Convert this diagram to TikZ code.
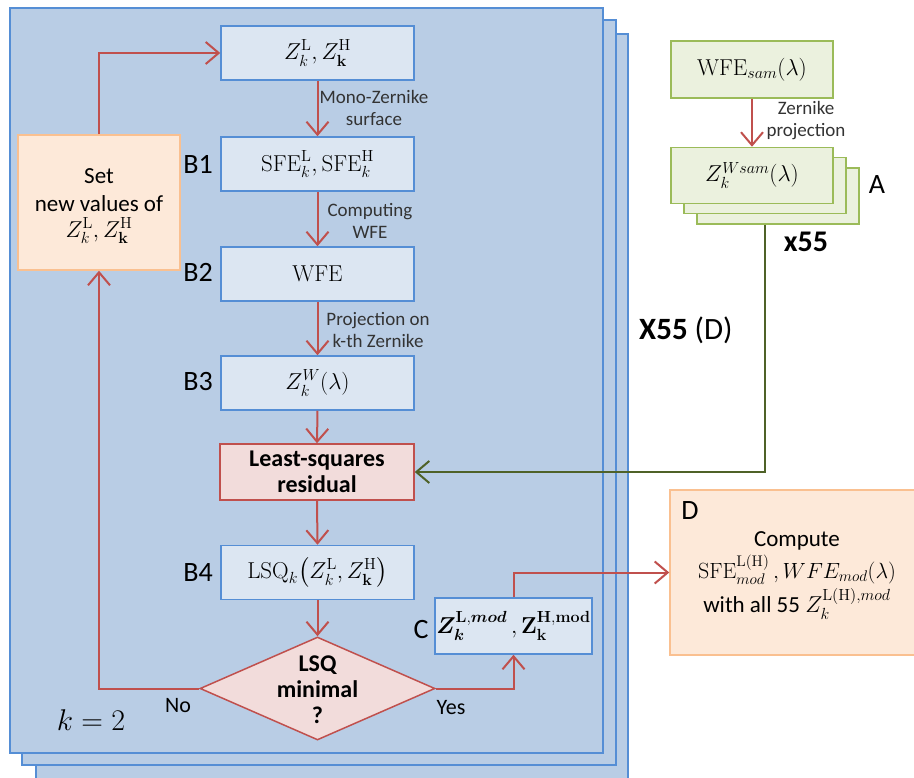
\RequirePackage{fix-cm}
\documentclass[tikz,border=0pt]{standalone}
\usepackage{amsmath}
\usepackage{bm}
\usepackage[no-math]{fontspec}
\setmainfont{Carlito}
\usetikzlibrary{arrows.meta,shapes.geometric}
\definecolor{pfill}{HTML}{B9CDE5}
\definecolor{pblue}{HTML}{558ED5}
\definecolor{bfill}{HTML}{DCE6F2}
\definecolor{ared}{HTML}{C0504D}
\definecolor{rfill}{HTML}{F2DCDB}
\definecolor{ofill}{HTML}{FDE9D9}
\definecolor{oline}{HTML}{FAC090}
\definecolor{gline}{HTML}{9BBB59}
\definecolor{gfill}{HTML}{EBF1DE}
\definecolor{gdark}{HTML}{4F6228}
\definecolor{tgray}{HTML}{333333}
\newcommand{\fbig}{\fontsize{28}{32}\selectfont}
\newcommand{\fmath}{\fontsize{23}{27}\selectfont}
\newcommand{\fdmath}{\fontsize{22}{26}\selectfont}
\newcommand{\fsmall}{\fontsize{19}{22}\selectfont}
\newcommand{\fmid}{\fontsize{23}{28}\selectfont}
\newcommand{\fbold}{\fontsize{24}{26}\selectfont\bfseries}
\tikzset{
  panel/.style={draw=pblue, fill=pfill, line width=1.5pt},
  bbox/.style={draw=pblue, fill=bfill, line width=1.5pt, minimum width=193pt, minimum height=54pt, inner sep=0pt, font=\fmath},
  rbox/.style={draw=ared, fill=rfill, line width=1.5pt, minimum width=194pt, minimum height=56pt, inner sep=0pt, align=center, font=\fbold},
  obox/.style={draw=oline, fill=ofill, line width=1.5pt, inner sep=0pt},
  gbox/.style={draw=gline, fill=gfill, line width=1.5pt, minimum width=162pt, minimum height=56pt, inner sep=0pt, font=\fmath},
  arr/.style={draw=ared, line width=2pt, -{Straight Barb[length=13pt,width=22pt,line width=2pt]}},
  garr/.style={draw=gdark, line width=2pt, -{Straight Barb[length=13pt,width=22pt,line width=2pt]}},
  elab/.style={align=center, font=\fsmall, text=tgray, inner sep=0pt},
  blab/.style={font=\fbig, inner sep=0pt},
}
\begin{document}
\begin{tikzpicture}[x=1pt,y=-1pt]
\useasboundingbox (0,0) rectangle (914,778);
\clip (0,0) rectangle (914,778);
% stacked panels
\draw[panel] (36,34) rectangle (628,795);
\draw[panel] (22,20) rectangle (616,765);
\draw[panel] (10,8) rectangle (603,753);

% main column
\node[bbox] (z) at (317.5,53) {$Z_k^{\mathrm{L}}, Z_{\mathbf{k}}^{\mathrm{H}}$};
\node[bbox] (sfe) at (317.5,164) {$\mathrm{SFE}_k^{\mathrm{L}}, \mathrm{SFE}_k^{\mathrm{H}}$};
\node[bbox] (wfe) at (317.5,274) {$\mathrm{WFE}$};
\node[bbox] (zw) at (317.5,383) {$Z_k^{W}(\lambda)$};
\node[rbox] (ls) at (317,472) {Least-squares\\residual};
\node[bbox] (lsq) at (317.5,572.5) {$\mathrm{LSQ}_k\bigl(Z_k^{\mathrm{L}}, Z_{\mathbf{k}}^{\mathrm{H}}\bigr)$};
\node[diamond, draw=ared, fill=rfill, line width=1.5pt, minimum width=235pt, minimum height=103pt, aspect=2.28, inner sep=0pt] (dia) at (317.5,688.5) {};
\node[align=center, font=\fbold, inner sep=0pt] (diat) at (317.5,690) {LSQ\\minimal\\?};
\node[bbox, minimum width=157pt, minimum height=56pt] (c) at (513.5,626) {$\bm{Z}_{\bm{k}}^{\mathbf{L},\bm{mod}}\,,\mathbf{Z}_{\mathbf{k}}^{\mathbf{H,mod}}$};
\node[obox, minimum width=162pt, minimum height=135pt] (set) at (99,202.5) {};
\node[align=center, font=\fmid, inner sep=0pt] (sett) at (99,206) {Set\\new values of\\[-2pt]$Z_k^{\mathrm{L}}, Z_{\mathbf{k}}^{\mathrm{H}}$};

% side labels
\node[blab] (b1) at (198,164) {B1};
\node[blab] (b2) at (198,272) {B2};
\node[blab] (b3) at (198,382) {B3};
\node[blab] (b4) at (198,573) {B4};
\node[blab] (cl) at (421,630) {C};
\node[font=\fontsize{30}{34}\selectfont, inner sep=0pt] (k2) at (91,720) {$k=2$};
\node[font=\fontsize{22}{26}\selectfont, inner sep=0pt] (no) at (178,706) {No};
\node[font=\fontsize{22}{26}\selectfont, inner sep=0pt] (yes) at (451,708) {Yes};

% edge labels
\node[elab] (l1) at (374,108) {Mono-Zernike\\surface};
\node[elab] (l2) at (370,221) {Computing\\WFE};
\node[elab] (l3) at (378,330) {Projection on\\k-th Zernike};

% connectors main column
\draw[arr] (z.south) -- (sfe.north);
\draw[arr] (sfe.south) -- (wfe.north);
\draw[arr] (wfe.south) -- (zw.north);
\draw[arr] (zw.south) -- (ls.north);
\draw[arr] (ls.south) -- (lsq.north);
\draw[arr] (lsq.south) -- (dia.north);
\draw[arr] (dia.west) -| (set.south);
\draw[arr] (set.north) |- (z.west);
\draw[arr] (dia.east) -| (c.south);

% right side
\node[gbox, minimum height=57pt] (wfes) at (752,69.5) {$\mathrm{WFE}_{sam}(\lambda)$};
\node[gbox] (zs3) at (778,196) {};
\node[gbox] (zs2) at (765,185.5) {};
\node[gbox] (zs1) at (752,175.5) {$Z_k^{Wsam}(\lambda)$};
\node[elab] (l4) at (806,121) {Zernike\\projection};
\draw[arr] (wfes.south) -- (zs1.north);
\node[blab] (al) at (877,185) {A};
\node[font=\fontsize{30}{34}\selectfont\bfseries, inner sep=0pt] (x55) at (806,242) {x55};
\node[font=\fontsize{31}{34}\selectfont, inner sep=0pt, anchor=west] (x55d) at (639,330) {\textbf{X55} (D)};
\coordinate (gstart) at (zs2.south |- zs3.south);
\draw[garr] (gstart) |- (ls.east);

% D box
\node[obox, minimum width=252pt, minimum height=165pt] (d) at (796,572.5) {};
\node[blab] (dl) at (690,511) {D};
\node[font=\fmid, inner sep=0pt] (d1) at (797,541) {Compute};
\node[font=\fdmath, inner sep=0pt] (d2) at (797,570) {$\mathrm{SFE}_{mod}^{\mathrm{L(H)}}\,,WFE_{mod}(\lambda)$};
\node[font=\fmid, inner sep=0pt] (d3) at (797,604) {with all 55 $Z_k^{\mathrm{L(H)},mod}$};
\draw[arr] (c.north) |- (d.west);
\end{tikzpicture}
\end{document}
